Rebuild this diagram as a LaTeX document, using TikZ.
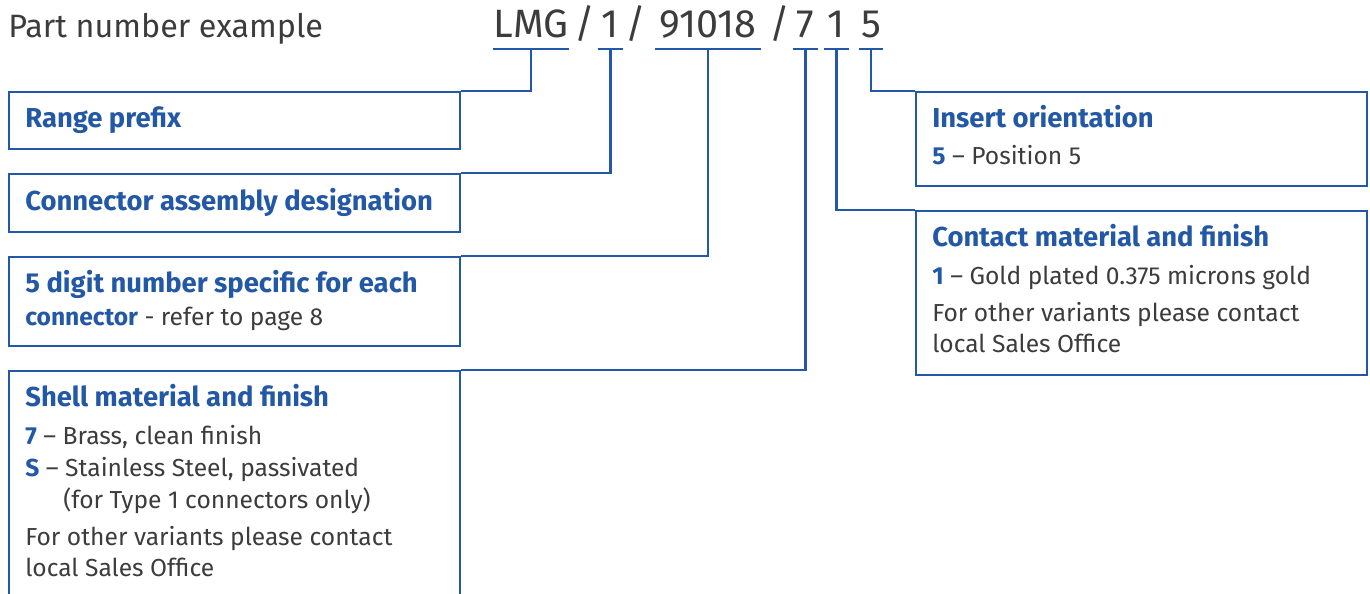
\documentclass[tikz,border=0pt]{standalone}
\usepackage{fontspec}
\setmainfont{Fira Sans}
\definecolor{lblue}{HTML}{2258A5}
\definecolor{ltext}{HTML}{3C3C3C}
\newcommand{\key}[1]{\textcolor{lblue}{\bfseries #1}}
\tikzset{
  box/.style={draw=lblue, line width=1.2pt, anchor=north west, minimum width=9.02cm, inner sep=0pt},
  link/.style={draw=lblue, line width=1.4pt},
  head/.style={anchor=base west, inner sep=0pt, text=lblue, font=\fontsize{15.6}{18}\selectfont\bfseries},
  txt/.style={anchor=base west, inner sep=0pt, text=ltext, font=\fontsize{14}{17}\selectfont},
  part/.style={anchor=base, inner sep=0pt, text=ltext, font=\fontsize{22.5}{26}\selectfont}
}
\begin{document}
\begin{tikzpicture}[x=0.02cm, y=-0.02cm]
  \useasboundingbox (0,0) rectangle (1370,594);
  \node[anchor=base west, inner sep=0pt, text=ltext, font=\fontsize{18.4}{22}\selectfont] (title) at (8,38) {Part number example};

  % the part number
  \node[part, minimum width=1.52cm] (lmg) at (531,38) {LMG};
  \node[part] (s1) at (585,38) {/};
  \node[part, minimum width=0.5cm] (assy) at (610.5,38) {1};
  \node[part] (s2) at (636,38) {/};
  \node[part, minimum width=2.12cm] (num) at (708,38) {91018};
  \node[part] (s3) at (780,38) {/};
  \node[part, minimum width=0.5cm] (shl) at (805.5,38) {7};
  \node[part, minimum width=0.5cm] (cnt) at (836.5,38) {1};
  \node[part, minimum width=0.48cm] (ori) at (871,38) {5};
  \coordinate (uline) at (0,49);

  % boxes
  \node[box, minimum height=1.14cm] (range) at (8,91) {};
  \node[box, minimum height=1.16cm] (assembly) at (8,173) {};
  \node[box, minimum height=1.78cm] (digits) at (8,256) {};
  \node[box, minimum height=4.8cm] (shell) at (8,370) {};
  \node[box, minimum height=1.88cm] (insert) at (915,91) {};
  \node[box, minimum height=3.28cm] (contact) at (915,210) {};

  % texts
  \node[head] (range-t) at (25,128) {Range prefix};
  \node[head] (assembly-t) at (25,211) {Connector assembly designation};
  \node[head] (digits-t) at (25,293) {5 digit number specific for each};
  \node[txt] (digits-b) at (25,326) {\key{connector} - refer to page 8};
  \node[head] (shell-t) at (25,407) {Shell material and finish};
  \node[txt] (shell-a) at (25,445) {\key{7} – Brass, clean finish};
  \node[txt] (shell-b) at (25,477) {\key{S} – Stainless Steel, passivated};
  \node[txt] (shell-c) at (63,509) {(for Type 1 connectors only)};
  \node[txt] (shell-d) at (25,545) {For other variants please contact};
  \node[txt] (shell-e) at (25,577) {local Sales Office};
  \node[head] (insert-t) at (932,128) {Insert orientation};
  \node[txt] (insert-a) at (932,165) {\key{5} – Position 5};
  \node[head] (contact-t) at (932,247) {Contact material and finish};
  \node[txt] (contact-a) at (932,285) {\key{1} – Gold plated 0.375 microns gold};
  \node[txt] (contact-b) at (932,322) {For other variants please contact};
  \node[txt] (contact-c) at (932,353) {local Sales Office};

  % underlines and leaders
  \foreach \seg in {lmg,assy,num,shl,cnt,ori}
    \draw[link] (\seg.west |- uline) -- (\seg.east |- uline);
  \draw[link] (lmg.center |- uline) |- (range.north east);
  \draw[link] (assy.center |- uline) |- (assembly.north east);
  \draw[link] (num.center |- uline) |- (digits.north east);
  \draw[link] (shl.center |- uline) |- (shell.north east);
  \draw[link] (cnt.center |- uline) |- (contact.north west);
  \draw[link] (ori.center |- uline) |- (insert.north west);
\end{tikzpicture}
\end{document}
